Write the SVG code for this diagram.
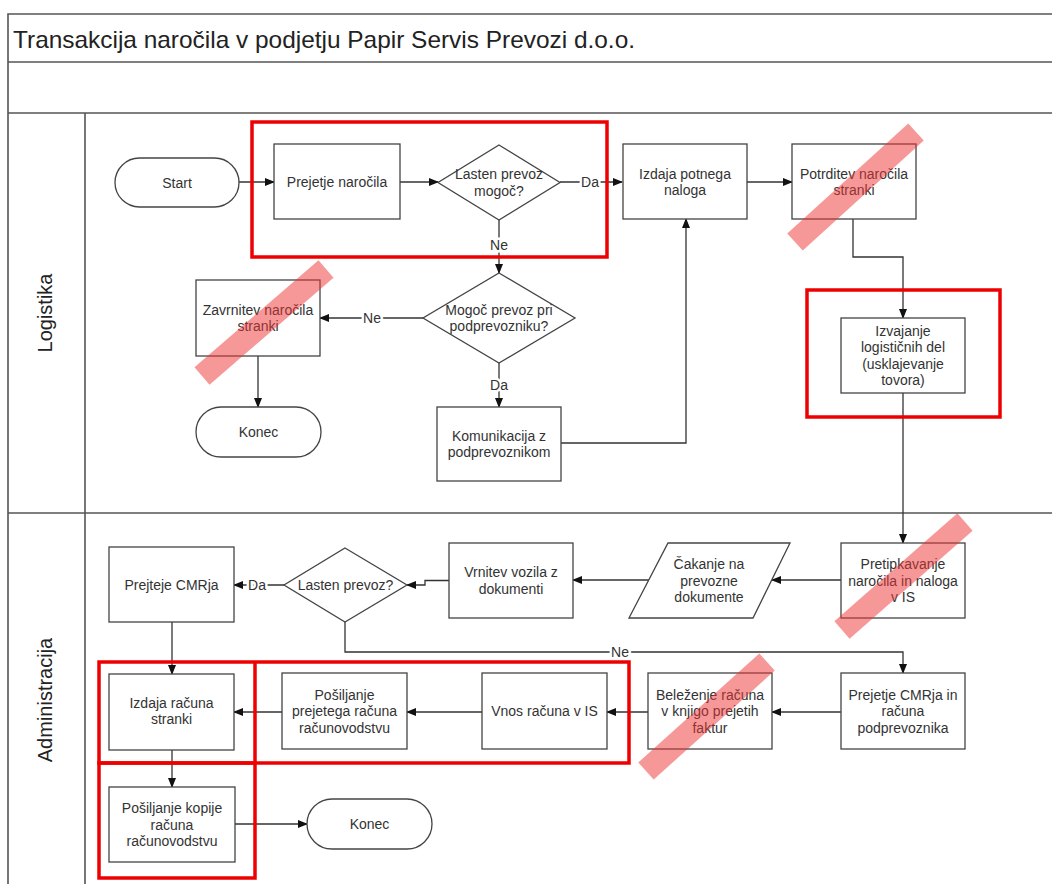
<svg xmlns="http://www.w3.org/2000/svg" width="1052" height="884" viewBox="0 0 1052 884">
<defs>
<marker id="arr" markerWidth="10" markerHeight="8" refX="9" refY="4" orient="auto" markerUnits="userSpaceOnUse">
<path d="M0,0 L10,4 L0,8 Z" fill="#111"/>
</marker>
<style>
.frame{fill:none;stroke:#555;stroke-width:1.6}
.box{fill:#fff;stroke:#444;stroke-width:1.3}
.t{font-family:"Liberation Sans",Arial,sans-serif;font-size:14px;fill:#333;text-anchor:middle}
.lane{font-family:"Liberation Sans",Arial,sans-serif;font-size:20px;fill:#222;text-anchor:middle}
.title{font-family:"Liberation Sans",Arial,sans-serif;font-size:24px;fill:#222}
.c{fill:none;stroke:#333;stroke-width:1.3;marker-end:url(#arr)}
.lbl{font-family:"Liberation Sans",Arial,sans-serif;font-size:14px;fill:#333;text-anchor:middle;stroke:#fff;stroke-width:5;paint-order:stroke}
.red{fill:none;stroke:#e00;stroke-width:3.5}
.strike{stroke:#ee3333;stroke-width:23;opacity:0.5;stroke-linecap:butt}
</style>
</defs>
<rect width="1052" height="884" fill="#fff"/>
<g id="frame">
<path class="frame" d="M8,884 V14 H1052 M8,62 H1052 M8,113 H1052 M8,513 H1052 M85,113 V884"/>
<text class="title" x="13" y="48" textLength="622" lengthAdjust="spacingAndGlyphs">Transakcija naročila v podjetju Papir Servis Prevozi d.o.o.</text>
<text class="lane" transform="translate(52,313) rotate(-90)">Logistika</text>
<text class="lane" transform="translate(52,700) rotate(-90)">Administracija</text>
</g>
<g id="connectors">
<path class="c" d="M239,182 H274"/>
<path class="c" d="M400,182 H438"/>
<path class="c" d="M560,182 H622"/>
<path class="c" d="M499,220 V273"/>
<path class="c" d="M423,318 H320"/>
<path class="c" d="M258,356 V407"/>
<path class="c" d="M499,363 V407"/>
<path class="c" d="M561,443 H686 V219"/>
<path class="c" d="M747,182 H792"/>
<path class="c" d="M853,219 V257 H903 V318"/>
<path class="c" d="M903,393 V543"/>
<path class="c" d="M841,580 H772"/>
<path class="c" d="M649,580 H573"/>
<path class="c" d="M449,580.5 H425 V585 H407"/>
<path class="c" d="M284,585 H234"/>
<path class="c" d="M345,622 V652 H903 V673"/>
<path class="c" d="M172,622 V674"/>
<path class="c" d="M841,712 H772"/>
<path class="c" d="M648,712 H607"/>
<path class="c" d="M482,712 H407"/>
<path class="c" d="M282,712 H234"/>
<path class="c" d="M172,750 V787"/>
<path class="c" d="M235,824 H307"/>
<text class="lbl" x="590" y="187">Da</text>
<text class="lbl" x="499" y="250">Ne</text>
<text class="lbl" x="372" y="323">Ne</text>
<text class="lbl" x="499" y="390">Da</text>
<text class="lbl" x="257" y="590">Da</text>
<text class="lbl" x="620" y="657">Ne</text>
</g>
<g id="start">
<rect class="box" x="115" y="158" width="124" height="49" rx="24.5"/>
<text class="t" x="177" y="187.5">Start</text>
</g>
<g id="prejetje-narocila">
<rect class="box" x="274" y="144" width="126" height="75"/>
<text class="t" x="337" y="187">Prejetje naročila</text>
</g>
<g id="lasten-prevoz-mogoc">
<polygon class="box" points="499,145 560,182.5 499,220 438,182.5"/>
<text class="t" x="499" y="179">Lasten prevoz</text>
<text class="t" x="499" y="196">mogoč?</text>
</g>
<g id="izdaja-potnega-naloga">
<rect class="box" x="623" y="144" width="124" height="75"/>
<text class="t" x="685" y="179">Izdaja potnega</text>
<text class="t" x="685" y="195">naloga</text>
</g>
<g id="potrditev-narocila">
<rect class="box" x="792" y="144" width="124" height="75"/>
<text class="t" x="854" y="179">Potrditev naročila</text>
<text class="t" x="854" y="195">stranki</text>
</g>
<g id="mogoc-prevoz-pri-podprevozniku">
<polygon class="box" points="499,273 575,318 499,363 423,318"/>
<text class="t" x="499" y="315">Mogoč prevoz pri</text>
<text class="t" x="499" y="331">podprevozniku?</text>
</g>
<g id="zavrnitev-narocila">
<rect class="box" x="196" y="280" width="124" height="76"/>
<text class="t" x="258" y="315">Zavrnitev naročila</text>
<text class="t" x="258" y="331">stranki</text>
</g>
<g id="konec-1">
<rect class="box" x="196" y="407" width="125" height="50" rx="25"/>
<text class="t" x="258.5" y="437">Konec</text>
</g>
<g id="komunikacija">
<rect class="box" x="437" y="407" width="124" height="74"/>
<text class="t" x="499" y="441">Komunikacija z</text>
<text class="t" x="499" y="457">podprevoznikom</text>
</g>
<g id="izvajanje">
<rect class="box" x="841" y="318" width="124" height="75"/>
<text class="t" x="903" y="336">Izvajanje</text>
<text class="t" x="903" y="352">logističnih del</text>
<text class="t" x="903" y="369">(usklajevanje</text>
<text class="t" x="903" y="385">tovora)</text>
</g>
<g id="pretipkavanje">
<rect class="box" x="841" y="543" width="124" height="75"/>
<text class="t" x="903" y="569">Pretipkavanje</text>
<text class="t" x="903" y="586">naročila in naloga</text>
<text class="t" x="903" y="602">v IS</text>
</g>
<g id="cakanje">
<polygon class="box" points="668,543 790,543 753,618 629,618"/>
<text class="t" x="709" y="569">Čakanje na</text>
<text class="t" x="709" y="586">prevozne</text>
<text class="t" x="709" y="602">dokumente</text>
</g>
<g id="vrnitev-vozila">
<rect class="box" x="449" y="543" width="124" height="75"/>
<text class="t" x="511" y="577">Vrnitev vozila z</text>
<text class="t" x="511" y="594">dokumenti</text>
</g>
<g id="lasten-prevoz">
<polygon class="box" points="345,548 407,585 345,622 284,585"/>
<text class="t" x="345.5" y="590">Lasten prevoz?</text>
</g>
<g id="prejteje-cmrja">
<rect class="box" x="109" y="547" width="125" height="75"/>
<text class="t" x="171.5" y="590">Prejteje CMRja</text>
</g>
<g id="prejetje-cmrja-racuna">
<rect class="box" x="841" y="673" width="124" height="76"/>
<text class="t" x="903" y="700">Prejetje CMRja in</text>
<text class="t" x="903" y="716">računa</text>
<text class="t" x="903" y="733">podprevoznika</text>
</g>
<g id="belezenje">
<rect class="box" x="648" y="673" width="124" height="76"/>
<text class="t" x="710" y="700">Beleženje računa</text>
<text class="t" x="710" y="716">v knjigo prejetih</text>
<text class="t" x="710" y="733">faktur</text>
</g>
<g id="vnos-racuna">
<rect class="box" x="482" y="673" width="125" height="76"/>
<text class="t" x="544.5" y="716">Vnos računa v IS</text>
</g>
<g id="posiljanje-prejetega">
<rect class="box" x="282" y="673" width="125" height="76"/>
<text class="t" x="344.5" y="700">Pošiljanje</text>
<text class="t" x="344.5" y="716">prejetega računa</text>
<text class="t" x="344.5" y="733">računovodstvu</text>
</g>
<g id="izdaja-racuna">
<rect class="box" x="109" y="674" width="125" height="76"/>
<text class="t" x="171.5" y="708">Izdaja računa</text>
<text class="t" x="171.5" y="724">stranki</text>
</g>
<g id="posiljanje-kopije">
<rect class="box" x="109" y="787" width="126" height="75"/>
<text class="t" x="172" y="813">Pošiljanje kopije</text>
<text class="t" x="172" y="830">računa</text>
<text class="t" x="172" y="846">računovodstvu</text>
</g>
<g id="konec-2">
<rect class="box" x="307" y="799" width="125" height="50" rx="25"/>
<text class="t" x="369.5" y="829">Konec</text>
</g>
<g id="highlights">
<rect class="red" x="99" y="662" width="530" height="101"/>
<path class="red" d="M255,662 V763"/>
<rect class="red" x="99" y="763" width="156" height="115"/>
<rect class="red" x="252" y="122" width="355" height="135"/>
<rect class="red" x="807" y="290" width="193" height="127"/>
</g>
<g id="strikes">
<line class="strike" x1="795" y1="242" x2="916" y2="132"/>
<line class="strike" x1="202" y1="376" x2="326" y2="269"/>
<line class="strike" x1="842" y1="630" x2="965" y2="522"/>
<line class="strike" x1="646" y1="771" x2="767" y2="662"/>
</g>
</svg>
